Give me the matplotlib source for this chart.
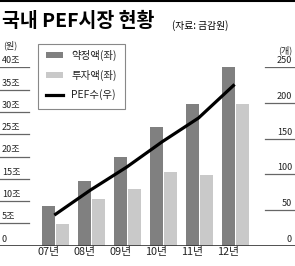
import numpy as np
import matplotlib
matplotlib.use('Agg')
import matplotlib.pyplot as plt
from matplotlib.patches import Rectangle
from matplotlib.lines import Line2D

plt.rcParams['font.family'] = ['Noto Sans CJK KR', 'DejaVu Sans']

# data
years = ['07년', '08년', '09년', '10년', '11년', '12년']
commit = [8.9, 14.5, 20.0, 26.6, 31.8, 40.0]     # 약정액, 조원 (left)
invest = [4.9, 10.4, 12.7, 16.5, 15.9, 31.8]     # 투자액, 조원 (left)
pef_count = [43, 78, 110, 146, 179, 226]         # PEF수, 개 (right)
left_ticks = [0, 5, 10, 15, 20, 25, 30, 35, 40]
right_ticks = [0, 50, 100, 150, 200, 250]

W, H = 295, 266
DARK = '#808080'
LIGHT = '#c9c9c9'


def fx(px):
    return px / W


def fy(py):
    return 1 - py / H


fig = plt.figure(figsize=(W / 100, H / 100), dpi=100)
y0, y1 = 245.8, 67.3   # pixel rows of 0 and top value
ax = fig.add_axes([0, fy(y0), 1, (y0 - y1) / H])
step = 36.05
ax.set_xlim(-48.2 / step, (W - 48.2) / step)
ax.set_ylim(0, 40)
ax.set_axis_off()

ax2 = ax.twinx()
ax2.set_ylim(0, 250)
ax2.set_axis_off()

x = np.arange(len(years))
bw = 0.36
ax.bar(x, commit, width=bw, color=DARK, zorder=2)
ax.bar(x + 0.388, invest, width=bw, color=LIGHT, zorder=2)
ax2.plot(x + 0.17, pef_count, color='black', lw=2.3, zorder=3,
         solid_capstyle='butt')

# short grid lines + labels on both sides
for v in left_ticks:
    if v > 0:
        ax.axhline(v, xmin=0, xmax=29 / W, color='#666666', lw=0.9)
    lab = '0' if v == 0 else f'{v}조'
    ax.annotate(lab, xy=(2 / W, v), xycoords=('axes fraction', 'data'),
                xytext=(0, 1.5), textcoords='offset points',
                ha='left', va='bottom', fontsize=6.5, color='#222222')
for v in right_ticks:
    if v > 0:
        ax2.axhline(v, xmin=265 / W, xmax=1, color='#666666', lw=0.9)
    ax2.annotate(str(v), xy=(292 / W, v), xycoords=('axes fraction', 'data'),
                 xytext=(0, 1.5), textcoords='offset points',
                 ha='right', va='bottom', fontsize=6.5, color='#222222')

ax.axhline(0, color='#333333', lw=1.2, zorder=4)

# category labels
for i, lab in enumerate(years):
    ax.text(i, (y0 - 252.5) / (y0 - y1), lab, transform=ax.get_xaxis_transform(),
            ha='center', va='center', fontsize=7.8, color='#222222')

fig.text(fx(3), fy(45), '(원)', fontsize=6.5, va='center', ha='left', color='#222222')
fig.text(fx(292), fy(50), '(개)', fontsize=6.5, va='center', ha='right', color='#222222')

# legend box
fig.add_artist(Rectangle((fx(37.7), fy(109)), fx(125) - fx(37.7), fy(44.3) - fy(109),
                         transform=fig.transFigure, facecolor='white',
                         edgecolor='#888888', lw=0.8, zorder=5))
items = [('약정액(좌)', 55, 'bar', DARK), ('투자액(좌)', 75, 'bar', LIGHT),
         ('PEF수(우)', 95, 'line', 'black')]
for lab, py, kind, col in items:
    if kind == 'bar':
        fig.add_artist(Rectangle((fx(45.7), fy(py + 2.8)), fx(63.3) - fx(45.7),
                                 fy(py - 2.8) - fy(py + 2.8), transform=fig.transFigure,
                                 facecolor=col, edgecolor='none', zorder=6))
    else:
        fig.add_artist(Line2D([fx(45.7), fx(63.3)], [fy(py), fy(py)],
                              transform=fig.transFigure, color=col, lw=2.3, zorder=6))
    fig.text(fx(71), fy(py), lab, fontsize=7.5, va='center', ha='left',
             color='#222222', zorder=6)

# header
fig.add_artist(Line2D([0, 1], [fy(1), fy(1)], transform=fig.transFigure,
                      color='black', lw=1.5))
fig.text(fx(2), fy(21), '국내 PEF시장 현황', fontsize=14, fontweight='heavy',
         va='center', ha='left')
fig.text(fx(172), fy(26), '(자료: 금감원)', fontsize=7, va='center', ha='left')

fig.savefig('out.png', dpi=100)
